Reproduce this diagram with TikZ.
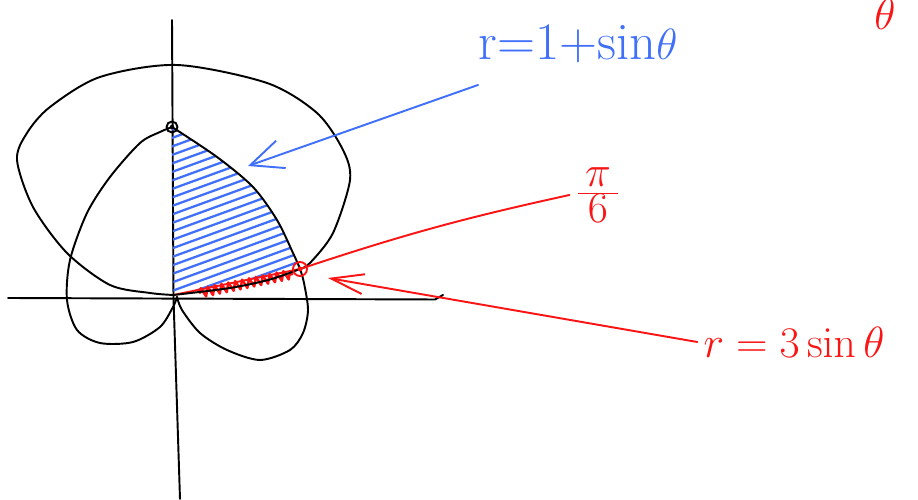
\documentclass[tikz,border=0pt]{standalone}
\usepackage{tikz}
\usetikzlibrary{arrows.meta, decorations.pathmorphing}
\usepackage{xcolor}
\definecolor{penblue}{RGB}{64,112,250}
\definecolor{penred}{RGB}{250,20,20}

\begin{document}
\begin{tikzpicture}[line cap=round, line join=round,
  >={Straight Barb[length=6.5mm, width=5.8mm]},
  crv/.style={draw=black, line width=1.1pt},
  bhat/.style={draw=penblue, line width=1.3pt},
  rhat/.style={draw=penred, line width=1.4pt, decorate,
               decoration={zigzag, segment length=4pt, amplitude=2.6pt}},
  barr/.style={->, draw=penblue, line width=1.1pt},
  rarr/.style={-{Straight Barb[length=6.5mm, width=4mm]}, draw=penred, line width=1.1pt},
  rlin/.style={draw=penred, line width=1.1pt},
  lbl/.style={inner sep=0.3333em},
]
  \useasboundingbox (-3.5,-4.04) rectangle (14.86,5.96);
  \coordinate (O) at (-0.03,0.06);
  \coordinate (T) at (-0.06,3.42);
  \coordinate (P) at (2.5,0.58);
  % axes
  \draw[crv] (-3.34,0) -- (5.2,-0.03) -- (5.36,0.06);
  \draw[crv] (-0.06,5.56) -- (-0.03,0) -- (0.1,-4.02);
  % blue hatching: y-axis, inner curve, ray O--P
  \begin{scope}
    \clip (O) -- (T) -- plot[smooth] coordinates {(T) (0.84,2.82) (1.56,2.22) (2.04,1.56) (2.36,0.9) (P)} -- cycle;
    \foreach \k in {0,...,26}
      \draw[bhat] (-0.2,-1.1+\k*0.17) -- ++(20:3.6);
  \end{scope}
  \draw[rlin] (O) -- (P);
  \draw[rhat] (0.5,0.1) -- (2.35,0.48);
  % outer curve
  \draw[crv] plot[smooth] coordinates {(O) (1.1,0.2) (1.9,0.37) (P)};
  \draw[crv] plot[smooth] coordinates {(P) (2.7,0.7) (3.16,1.3) (3.5,2.36) (3.36,2.96)
    (2.84,3.7) (1.84,4.3) (0.04,4.66) (-1.5,4.42) (-2.5,3.82) (-2.96,3.3) (-3.16,2.76)
    (-2.84,1.82) (-2.16,0.9) (-1.3,0.26) (-0.5,0.1) (O)};
  % inner curve
  \draw[crv] plot[smooth] coordinates {(T) (0.84,2.82) (1.56,2.22) (2.04,1.56) (2.36,0.9)
    (P) (2.58,0.3) (2.66,-0.24) (2.56,-0.7) (2.3,-1.04) (1.7,-1.24) (1.04,-1.04)
    (0.5,-0.7) (0.14,-0.24) (0.04,0.02)};
  \draw[crv] plot[smooth] coordinates {(0.04,0.02) (-0.04,-0.18) (-0.3,-0.58) (-0.84,-0.88)
    (-1.5,-0.9) (-1.96,-0.64) (-2.16,-0.04) (-2.1,0.76) (-1.76,1.7) (-1.3,2.42)
    (-0.7,3.1) (-0.3,3.32) (T)};
  \draw[crv] (T) circle (0.11);
  \fill (T) circle (0.045);
  \draw[rlin] (P) circle (0.14);
  \fill[penred] (P) circle (0.05);

  \node[lbl, text=penblue, font=\fontsize{30}{36}\selectfont] (Rcard) at (8.06,5.08) {r=1+sin$\theta$};
  \node[lbl, text=penred, font=\fontsize{32}{38}\selectfont] (Ang) at (8.46,2.06) {$\frac{\textstyle\,\pi\,}{\textstyle 6}$};
  \node[lbl, text=penred, font=\fontsize{32}{38}\selectfont] (Rcirc) at (12.38,-0.88) {$r=3\sin\theta$};
  \node[lbl, text=penred, font=\fontsize{34}{40}\selectfont] (Th) at (14.2,5.68) {$\theta$};

  \coordinate (Bs) at (6.06,4.26);
  \coordinate (Bt) at (1.46,2.64);
  \coordinate (Rt) at (3.06,0.4);
  \draw[barr] (Bs) -- (Bt);
  \draw[rarr] (Rcirc.west) -- (Rt);
  \draw[rlin] (P) to[bend left=3] (Ang.west);
\end{tikzpicture}
\end{document}
